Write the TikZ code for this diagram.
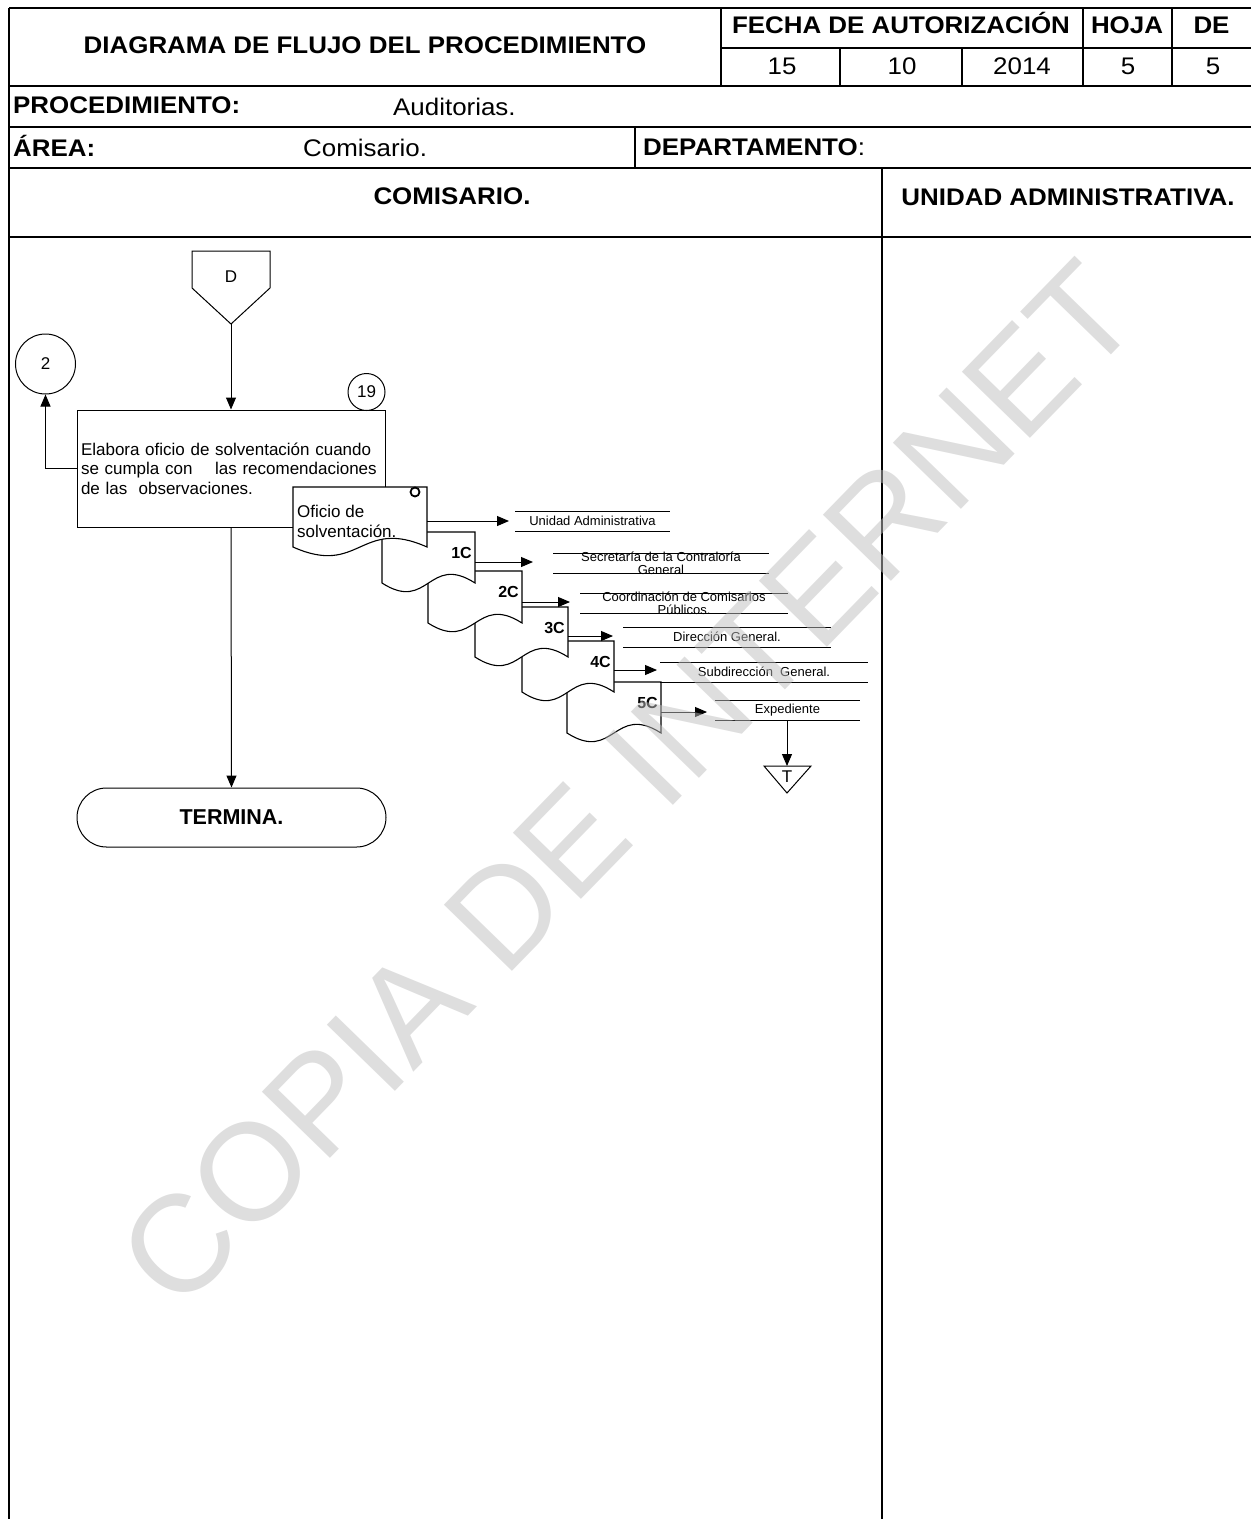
\documentclass[tikz,border=0pt]{standalone}
\usepackage{fontspec}
\setmainfont{Liberation Sans}
\newfontfamily\hdfont[FakeStretch=1.08]{Liberation Sans}
\usetikzlibrary{arrows.meta,positioning}

\tikzset{
  frame/.style={line width=2pt},
  flow/.style={line width=1pt},
  arr/.style={flow,-{Triangle[length=12pt,width=10pt]}},
  hdb/.style={anchor=base,inner sep=0pt,font=\hdfont\bfseries\fontsize{24}{27}\selectfont},
  hdr/.style={anchor=base,inner sep=0pt,font=\hdfont\fontsize{24}{27}\selectfont},
  procbox/.style={flow,draw,fill=white,minimum width=308,minimum height=117,text width=300,inner sep=4pt,font=\fontsize{17}{19.5}\selectfont},
  termbox/.style={flow,draw,rounded corners=29.5pt,minimum width=309,minimum height=59,font=\bfseries\fontsize{21.5}{24}\selectfont},
  conn/.style={flow,draw,circle,inner sep=0pt,font=\fontsize{17}{20}\selectfont},
  docline/.style={line width=1.1pt,fill=white},
  copytag/.style={anchor=east,inner sep=0pt,font=\bfseries\fontsize{16}{18}\selectfont},
  dest/.style={align=center,inner sep=0pt,font=\fontsize{13}{13}\selectfont},
}

\begin{document}
\begin{tikzpicture}[x=1pt,y=-1pt,font=\fontsize{17}{20}\selectfont]
  \useasboundingbox (0,0) rectangle (1251,1519);
  \draw[frame] (9,7.5) -- (1251,7.5);
  \draw[frame] (9,7.5) -- (9,1519);
  \foreach \h in {86,127,168,237}{\draw[frame] (9,\h) -- (1251,\h);}
  \draw[frame] (721,48) -- (1251,48);
  \foreach \v in {721,1083,1172}{\draw[frame] (\v,7.5) -- (\v,86);}
  \foreach \v in {840,962}{\draw[frame] (\v,48) -- (\v,86);}
  \draw[frame] (635,127) -- (635,168);
  \draw[frame] (882,168) -- (882,1519);

  \node[hdb] (title) at (365,53) {DIAGRAMA DE FLUJO DEL PROCEDIMIENTO};
  \node[hdb] (fecha) at (901,33) {FECHA DE AUTORIZACIÓN};
  \node[hdb] (hoja) at (1127,33) {HOJA};
  \node[hdb] (de) at (1211.5,33) {DE};
  \foreach \x/\t [count=\i] in {782/15,902/10,1022/2014,1128/5,1213/5}{\node[hdr] (val\i) at (\x,74) {\t};}
  \node[hdb,anchor=base west] (proc-k) at (13,113) {PROCEDIMIENTO:};
  \node[hdr,anchor=base west] (proc-v) at (393,115) {Auditorias.};
  \node[hdb,anchor=base west] (area-k) at (13,156) {ÁREA:};
  \node[hdr,anchor=base west] (area-v) at (303,156) {Comisario.};
  \node[hdb,anchor=base west] (dept-k) at (643,155) {DEPARTAMENTO\textmd{:}};
  \node[hdb] (lane1) at (452,204) {COMISARIO.};
  \node[hdb] (lane2) at (1068,205) {UNIDAD ADMINISTRATIVA.};

  \draw[flow] (192,251) -- (270,251) -- (270,288) -- (231,324) -- (192,288) -- cycle;
  \node (offD) at (231,277) {D};
  \coordinate (offD-tip) at (231,324);
  \node[procbox] (proc) at (231,468.5) {\makebox[300pt][s]{Elabora oficio de solventación cuando}\\\makebox[300pt][s]{se cumpla con \ \ \ las recomendaciones}\\de las \ observaciones.};
  \node[conn,minimum size=37] (step19) at (366.5,392) {19};
  \node[conn,minimum size=60] (conn2) at (45.5,364) {2};
  \draw[arr] (offD-tip) -- (proc.north);
  \draw[arr] (proc.west) -| (conn2.south);
  \node[termbox] (term) at (231.5,817.5) {TERMINA.};
  \draw[arr] (proc.south) -- (term.north);

  \foreach \k/\L/\T/\R/\B in {5/567/682/661/733,4/522/641/614/692,3/475/607/568/657,2/428/571/522/623,1/382/532/475/583,0/293/487/427/547}{
    \pgfmathsetmacro\M{(\L+\R)/2}
    \draw[docline] (\L,\B) .. controls (\M,\B+30) and (\M,\B-30) .. (\R,\B) -- (\R,\T) -- (\L,\T) -- cycle;
  }
  \node[anchor=west,align=left,inner sep=0pt] (doc0txt) at (297,521) {Oficio de\\solventación.};
  \node[draw,circle,line width=1.8pt,minimum size=9,inner sep=0pt] (doc0mark) at (415,492) {};
  \foreach \k/\R/\T in {1/475/532,2/522/571,3/568/607,4/614/641,5/661/682}{\node[copytag] (tag\k) at (\R-3,\T+21) {\k C};}

  \foreach \k/\R/\ay/\tip/\xa/\xb/\yc/\txt in {0/427/521/509/515/670/521/{Unidad Administrativa},1/475/562/533/553/769/563/{Secretaría de la Contraloría\\General},2/522/602/570/580/788/603/{Coordinación de Comisarios\\Públicos.},3/568/636/613/623/831/637/{Dirección General.},4/614/670/657/660/868/672/{Subdirección \ General.},5/661/712/707/715/860/710/{Expediente}}{
    \coordinate (out\k) at (\R,\ay);
    \coordinate (in\k) at (\tip,\ay);
    \draw[arr] (out\k) -- (in\k);
    \draw[flow] (\xa,\yc-10) -- (\xb,\yc-10) (\xa,\yc+10) -- (\xb,\yc+10);
    \node[dest] (dest\k) at ({(\xa+\xb)/2},\yc) {\txt};
  }

  \coordinate (dest5-s) at (787,720);
  \draw[flow] (764,766) -- (811,766) -- (787,793) -- cycle;
  \node[inner sep=0pt] (termT) at (787,777) {T};
  \coordinate (termT-top) at (787,766);
  \draw[arr] (dest5-s) -- (termT-top);

  \node[rotate=45.8,text=black!26,opacity=0.5,inner sep=0pt,font=\fontsize{138}{138}\selectfont] (watermark) at (628,784) {COPIA DE INTERNET};
\end{tikzpicture}
\end{document}
